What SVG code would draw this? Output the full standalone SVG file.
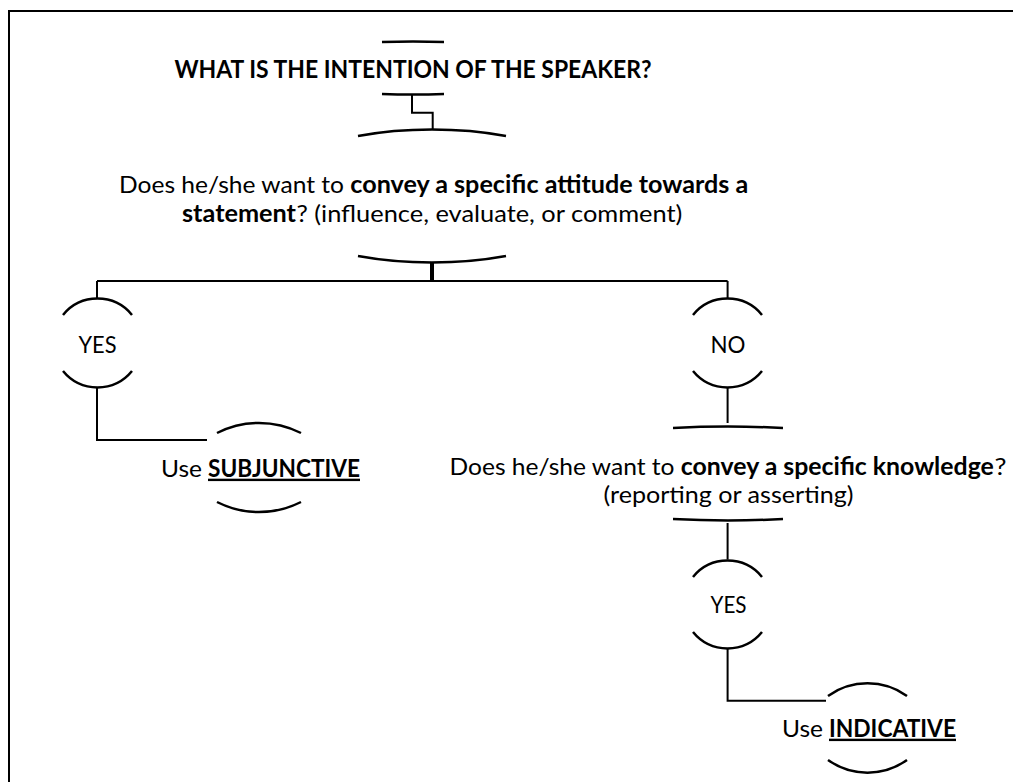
<svg xmlns="http://www.w3.org/2000/svg" width="1013" height="782" viewBox="0 0 1013 782">
  <style>
    .ln { fill: none; stroke: #000; stroke-width: 2; }
    .arc { fill: none; stroke: #000; stroke-width: 2.5; }
    .t { font-family: Lato, "Open Sans", "Liberation Sans", sans-serif; font-size: 24px; fill: #000; }
    .b { font-weight: bold; }
    .u { text-decoration: underline; }
  </style>
  <rect x="9" y="11" width="1020" height="790" fill="#fff" stroke="#000" stroke-width="2"/>

  <g id="connectors" class="ln">
    <path d="M412,94 V112.7 H432.7 V130"/>
    <path d="M432,262 V281" stroke-width="4"/>
    <path d="M97,281 H727.6"/>
    <path d="M97,281 V298.5"/>
    <path d="M727.6,281 V298.5"/>
    <path d="M97,387 V440 H207"/>
    <path d="M727.6,387 V423"/>
    <path d="M727.6,523 V559.5"/>
    <path d="M727.6,648 V700.7 H826"/>
  </g>

  <g id="n-intention">
    <path class="arc" d="M382,42 Q413,41 444,42"/>
    <path class="arc" d="M382,94 Q413,95 444,94"/>
    <text class="t b" x="413" y="78.3" text-anchor="middle" textLength="477" lengthAdjust="spacingAndGlyphs">WHAT IS THE INTENTION OF THE SPEAKER?</text>
  </g>

  <g id="n-attitude">
    <path class="arc" d="M358,136 A172,66.5 0 0 1 506,136"/>
    <path class="arc" d="M358,256 A172,66.5 0 0 0 506,256"/>
    <text class="t" x="119" y="193" textLength="225" lengthAdjust="spacingAndGlyphs">Does he/she want to</text>
    <text class="t b" x="350.3" y="193" textLength="398" lengthAdjust="spacingAndGlyphs">convey a specific attitude towards a</text>
    <text class="t b" x="182" y="222" textLength="114" lengthAdjust="spacingAndGlyphs">statement</text>
    <text class="t" x="296.4" y="222" textLength="386" lengthAdjust="spacingAndGlyphs">? (influence, evaluate, or comment)</text>
  </g>

  <g id="n-yes1">
    <path class="arc" d="M63,315 A44.5,44.5 0 0 1 132,315"/>
    <path class="arc" d="M63,371 A44.5,44.5 0 0 0 132,371"/>
    <text class="t" x="97.5" y="353" text-anchor="middle" textLength="38" lengthAdjust="spacingAndGlyphs">YES</text>
  </g>

  <g id="n-no">
    <path class="arc" d="M693,315 A44.5,44.5 0 0 1 762,315"/>
    <path class="arc" d="M693,371 A44.5,44.5 0 0 0 762,371"/>
    <text class="t" x="728" y="353" text-anchor="middle" textLength="35" lengthAdjust="spacingAndGlyphs">NO</text>
  </g>

  <g id="n-subjunctive">
    <path class="arc" d="M217,433 A93,93 0 0 1 301,433"/>
    <path class="arc" d="M217,502 A93,93 0 0 0 301,502"/>
    <text class="t" x="161" y="476.7" textLength="41" lengthAdjust="spacingAndGlyphs">Use</text>
    <text class="t b u" x="208" y="476.7" textLength="152" lengthAdjust="spacingAndGlyphs">SUBJUNCTIVE</text>
  </g>

  <g id="n-knowledge">
    <path class="arc" d="M673,428 A250,60 0 0 1 783,428"/>
    <path class="arc" d="M673,519 A250,60 0 0 0 783,519"/>
    <text class="t" x="449.5" y="475" textLength="225" lengthAdjust="spacingAndGlyphs">Does he/she want to</text>
    <text class="t b" x="680.8" y="475" textLength="313" lengthAdjust="spacingAndGlyphs">convey a specific knowledge</text>
    <text class="t" x="994.5" y="475" textLength="12" lengthAdjust="spacingAndGlyphs">?</text>
    <text class="t" x="728.5" y="503" text-anchor="middle" textLength="250" lengthAdjust="spacingAndGlyphs">(reporting or asserting)</text>
  </g>

  <g id="n-yes2">
    <path class="arc" d="M693,577 A44.5,44.5 0 0 1 762,577"/>
    <path class="arc" d="M693,632 A44.5,44.5 0 0 0 762,632"/>
    <text class="t" x="728.5" y="613.3" text-anchor="middle" textLength="36" lengthAdjust="spacingAndGlyphs">YES</text>
  </g>

  <g id="n-indicative">
    <path class="arc" d="M828,696 A68,68 0 0 1 907,696"/>
    <path class="arc" d="M828,760 A68,68 0 0 0 907,760"/>
    <text class="t" x="782" y="736.7" textLength="41" lengthAdjust="spacingAndGlyphs">Use</text>
    <text class="t b u" x="829" y="736.7" textLength="127" lengthAdjust="spacingAndGlyphs">INDICATIVE</text>
  </g>
</svg>
